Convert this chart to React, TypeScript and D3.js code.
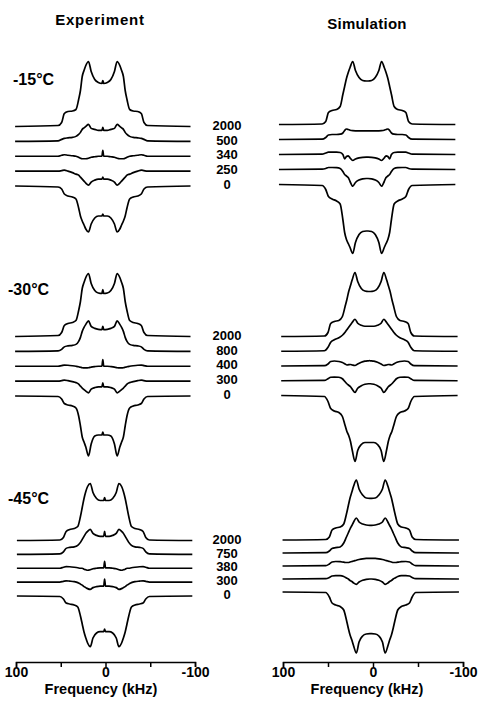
import React, { useEffect, useRef } from 'react';
import * as d3 from 'd3';

// frequency offsets (kHz) from the centre of each powder pattern
const offsets = [98, 50, 46, 43, 39, 34, 30, 27, 25, 23, 21, 19, 16, 13, 9, 5, 1, 0, -1, -5, -9, -13, -16, -19, -21, -23, -25, -27, -30, -34, -39, -43, -46, -50, -98];

const temperatures = ['-15°C', '-30°C', '-45°C'];
const delayLabels = [
  ['2000', '500', '340', '250', '0'],
  ['2000', '800', '400', '300', '0'],
  ['2000', '750', '380', '300', '0'],
];
// line centre of each block of spectra (kHz)
const expCentre = [3, 3, 1];
const simCentre = [6.5, 4, 2.5];
const frequencyTicks = [100, 50, 0, -50, -100];

// intensities (a.u.), one row per delay, top to bottom
const expMinus15 = [
  [0, 1, 4, 13, 15, 15.5, 17, 27, 36, 50, 56, 61, 65, 55, 47, 44, 43, 46, 43, 44, 47, 55, 65, 61, 56, 50, 36, 27, 17, 15.5, 15, 13, 4, 1, 0],
  [0, 0.5, 2, 3, 3.5, 4, 5, 7, 9, 12, 13.5, 15, 17, 13, 12, 11, 11, 14, 11, 11, 12, 13, 17, 15, 13.5, 12, 9, 7, 5, 4, 3.5, 3, 2, 0.5, 0],
  [0, 0, 1, 1.5, 1, 0.5, 0, -1, -2, -2.5, -2.5, -2.5, -2, -1, -0.5, 0, 0, 6, 0, 0, -0.5, -1, -2, -2.5, -2.5, -2.5, -2, -1, 0, 0.5, 1, 1.5, 1, 0, 0],
  [0, 0, 0.5, 1, 0, -1.5, -3, -4, -6, -8, -10, -12, -14, -11, -9, -8, -8, -6, -8, -8, -9, -11, -14, -12, -10, -8, -6, -4, -3, -1.5, 0, 1, 0.5, 0, 0],
  [0, -1, -3, -8, -10, -11, -13, -22, -30, -35, -39, -43, -46, -38, -32, -30, -30, -28, -30, -30, -32, -38, -46, -43, -39, -35, -30, -22, -13, -11, -10, -8, -3, -1, 0],
];
const expMinus30 = [
  [0, 1, 4, 11, 13, 14, 16, 26, 35, 48, 54, 59, 63, 53, 46, 43.5, 43, 47, 43, 43.5, 46, 53, 63, 59, 54, 48, 35, 26, 16, 14, 13, 11, 4, 1, 0],
  [0, 0.5, 2, 4.5, 5.5, 6, 7, 10, 14, 20, 24, 27, 30.5, 25, 23, 22, 21.7, 25, 21.7, 22, 23, 25, 30.5, 27, 24, 20, 14, 10, 7, 6, 5.5, 4.5, 2, 0.5, 0],
  [0, 0, 0.7, 1.2, 1, 0.5, 0, -0.5, -1, -1.5, -1.7, -1.7, -1.5, -0.8, -0.3, 0, 0, 6.7, 0, 0, -0.3, -0.8, -1.5, -1.7, -1.7, -1.5, -1, -0.5, 0, 0.5, 1, 1.2, 0.7, 0, 0],
  [0, 0, 0.5, 1, 0.5, -0.5, -1.5, -3, -5, -7, -8.5, -10, -11.7, -8, -6.5, -5.7, -5.7, -1.7, -5.7, -5.7, -6.5, -8, -11.7, -10, -8.5, -7, -5, -3, -1.5, -0.5, 0.5, 1, 0.5, 0, 0],
  [0, -0.5, -3, -7.5, -9, -10, -12, -20, -30, -41, -46, -51, -60, -48, -40, -39, -39, -36, -39, -39, -40, -48, -60, -51, -46, -41, -30, -20, -12, -10, -9, -7.5, -3, -0.5, 0],
];
const expMinus45 = [
  [0, 0.5, 3, 9, 11, 12, 14, 24, 33, 42, 49, 54, 57, 48, 42, 40, 40, 43, 40, 40, 42, 48, 57, 54, 49, 42, 33, 24, 14, 12, 11, 9, 3, 0.5, 0],
  [0, 0.5, 2.5, 6, 7, 7.5, 9, 12, 15, 18, 21, 23, 25, 21, 19, 18, 18, 23, 18, 18, 19, 21, 25, 23, 21, 18, 15, 12, 9, 7.5, 7, 6, 2.5, 0.5, 0],
  [0, 0, 1, 1.7, 1.5, 1, 0.5, 0, 0, -1, -1.5, -2, -1.5, -0.5, 0, 0.3, 0.3, 7, 0.3, 0.3, 0, -0.5, -1.5, -2, -1.5, -1, 0, 0, 0.5, 1, 1.5, 1.7, 1, 0, 0],
  [0, 0, 0.8, 1.3, 1, 0.5, -0.5, -2, -3, -4.5, -5.5, -6.5, -7.3, -5.5, -4.5, -4, -4, 3, -4, -4, -4.5, -5.5, -7.3, -6.5, -5.5, -4.5, -3, -2, -0.5, 0.5, 1, 1.3, 0.8, 0, 0],
  [0, -0.5, -3, -7, -8, -9, -11, -20, -28, -36, -42, -47, -50.7, -42, -37, -35.7, -35.7, -33, -35.7, -35.7, -37, -42, -50.7, -47, -42, -36, -28, -20, -11, -9, -8, -7, -3, -0.5, 0],
];

const simMinus15 = [
  [0, 0.5, 3, 12, 14, 15, 18, 30, 38, 46, 52, 57, 63, 54, 47, 44, 43.5, 43.5, 43.5, 44, 47, 54, 63, 57, 52, 46, 38, 30, 18, 15, 14, 12, 3, 0.5, 0],
  [0, 0.3, 2, 4.5, 5, 5, 5.3, 6.5, 9, 10.5, 10, 9.3, 8.8, 8.7, 8.7, 8.7, 8.7, 8.7, 8.7, 8.7, 8.7, 8.7, 8.8, 9.3, 10, 10.5, 9, 6.5, 5.3, 5, 5, 4.5, 2, 0.3, 0],
  [0, 0.3, 1.5, 2.3, 2.3, 2.3, 2, 0, -4.3, -2, -1.3, -3.5, -6, -4.5, -3.3, -2.8, -2.7, -2.7, -2.7, -2.8, -3.3, -4.5, -6, -3.5, -1.3, -2, -4.3, 0, 2, 2.3, 2.3, 2.3, 1.5, 0.3, 0],
  [0, 0.3, 1, 2, 2, 1.8, 1, -2, -5, -6.5, -8, -12, -16.7, -13, -10.5, -9.3, -9, -9, -9, -9.3, -10.5, -13, -16.7, -12, -8, -6.5, -5, -2, 1, 1.8, 2, 2, 1, 0.3, 0],
  [0, -1, -5, -12, -14.5, -16.5, -19.5, -35, -48, -55, -59, -63, -69, -58, -50, -47, -46.5, -46.5, -46.5, -47, -50, -58, -69, -63, -59, -55, -48, -35, -19.5, -16.5, -14.5, -12, -5, -1, 0],
];
const simMinus30 = [
  [0, 0.5, 4, 13, 15, 16, 20, 30, 37, 45, 51, 57, 64, 55, 48, 45.5, 45, 45, 45, 45.5, 48, 55, 64, 57, 51, 45, 37, 30, 20, 16, 15, 13, 4, 0.5, 0],
  [0, 0.5, 4, 9, 11.5, 13.5, 16, 19, 21.5, 24, 26.5, 29, 32, 28, 26, 25, 25, 25, 25, 25, 26, 28, 32, 29, 26.5, 24, 21.5, 19, 16, 13.5, 11.5, 9, 4, 0.5, 0],
  [0, 0.3, 2, 4.5, 5, 4.5, 3.5, 2, 1, 1.3, 1.5, 1, 0.5, 2, 3.7, 4.8, 5.2, 5.3, 5.2, 4.8, 3.7, 2, 0.5, 1, 1.5, 1.3, 1, 2, 3.5, 4.5, 5, 4.5, 2, 0.3, 0],
  [0, 0.3, 2, 3.5, 3.7, 3.5, 2, -1, -3, -4.5, -6, -8.5, -11.7, -7.5, -5, -3.5, -3, -3, -3, -3.5, -5, -7.5, -11.7, -8.5, -6, -4.5, -3, -1, 2, 3.5, 3.7, 3.5, 2, 0.3, 0],
  [0, -1, -6, -13, -15.5, -17, -21, -30, -36, -40, -46, -55, -66, -55, -49, -47, -47, -47, -47, -47, -49, -55, -66, -55, -46, -40, -36, -30, -21, -17, -15.5, -13, -6, -1, 0],
];
const simMinus45 = [
  [0, 0.5, 3, 10, 12, 13, 16, 26, 34, 42, 48, 54, 60, 51, 45, 42, 41.7, 41.7, 41.7, 42, 45, 51, 60, 54, 48, 42, 34, 26, 16, 13, 12, 10, 3, 0.5, 0],
  [0, 0.3, 2, 4.5, 5.3, 6, 10, 16, 20, 24, 27.5, 31, 35, 31, 29, 28, 27.7, 27.7, 27.7, 28, 29, 31, 35, 31, 27.5, 24, 20, 16, 10, 6, 5.3, 4.5, 2, 0.3, 0],
  [0, 0.3, 2, 4, 4.5, 4.3, 3.8, 3.5, 3.5, 4, 4.5, 5, 5.8, 6.5, 7.2, 7.6, 7.7, 7.7, 7.7, 7.6, 7.2, 6.5, 5.8, 5, 4.5, 4, 3.5, 3.5, 3.8, 4.3, 4.5, 4, 2, 0.3, 0],
  [0, 0.3, 1.5, 3, 3.3, 3.3, 2.5, 1, 0, -1.5, -2.5, -4, -5.3, -3, -1.2, -0.3, 0, 0, 0, -0.3, -1.2, -3, -5.3, -4, -2.5, -1.5, 0, 1, 2.5, 3.3, 3.3, 3, 1.5, 0.3, 0],
  [0, -0.5, -5, -11, -13, -14.5, -18, -28, -36, -43, -48, -54, -61, -50, -44, -42, -41.7, -41.7, -41.7, -42, -44, -50, -61, -54, -48, -43, -36, -28, -18, -14.5, -13, -11, -5, -0.5, 0],
];

const FONT = '"Liberation Sans", Arial, Helvetica, sans-serif';

export default function App() {
  const svgRef = useRef<SVGSVGElement>(null);

  useEffect(() => {
    const svg = d3.select(svgRef.current);
    svg.selectAll('*').remove();

    const panels = [
      {
        title: 'Experiment',
        titleX: 100,
        titleY: 25,
        blocks: [expMinus15, expMinus30, expMinus45],
        centre: expCentre,
        range: [16, 195],
        rows: [[126.5, 186], [336.5, 396], [540.5, 596]],
        axisLabelX: 101,
      },
      {
        title: 'Simulation',
        titleX: 367,
        titleY: 29,
        blocks: [simMinus15, simMinus30, simMinus45],
        centre: simCentre,
        range: [283, 463],
        rows: [[124.5, 184.5], [336.5, 395.5], [540, 592]],
        axisLabelX: 367,
      },
    ];

    const amp = d3.scaleLinear().domain([0, 100]).range([0, -100]);
    const axisY = 662;

    panels.forEach((panel) => {
      const x = d3.scaleLinear().domain([100, -100]).range(panel.range);
      const g = svg.append('g');

      g.append('text')
        .attr('x', panel.titleX)
        .attr('y', panel.titleY)
        .attr('text-anchor', 'middle')
        .style('font-family', FONT)
        .style('font-size', '15px')
        .style('font-weight', 'bold')
        .style('letter-spacing', panel.title === 'Experiment' ? '0.8px' : '0.3px')
        .text(panel.title);

      panel.blocks.forEach((block, b) => {
        const row = d3
          .scalePoint<number>()
          .domain(d3.range(block.length))
          .range(panel.rows[b]);

        block.forEach((trace, k) => {
          const line = d3
            .line<number>()
            .x((_, i) => x(panel.centre[b] + offsets[i]))
            .y((v) => row(k)! + amp(v))
            .curve(d3.curveMonotoneX);

          g.append('path')
            .attr('d', line(trace))
            .attr('fill', 'none')
            .attr('stroke', '#000')
            .attr('stroke-width', 1.7)
            .attr('stroke-linejoin', 'round');
        });
      });

      const axis = g
        .append('g')
        .attr('transform', `translate(0, ${axisY})`)
        .call(
          d3
            .axisBottom(x)
            .tickValues(frequencyTicks)
            .tickSize(5)
            .tickPadding(0)
            .tickFormat((d) => (Math.abs(+d) === 50 ? '' : String(d)))
        );
      axis.selectAll('path, line').attr('stroke', '#000').attr('stroke-width', 1.5);
      axis
        .selectAll('text')
        .attr('fill', '#000')
        .style('font-family', FONT)
        .style('font-size', '14px')
        .style('font-weight', 'bold');

      g.append('text')
        .attr('x', panel.axisLabelX)
        .attr('y', 694)
        .attr('text-anchor', 'middle')
        .style('font-family', FONT)
        .style('font-size', '14.5px')
        .style('font-weight', 'bold')
        .text('Frequency (kHz)');
    });

    // temperature labels and delay labels between the panels
    const tempPos = [
      [13, 85],
      [8, 295],
      [8, 504],
    ];
    temperatures.forEach((t, b) => {
      svg
        .append('text')
        .attr('x', tempPos[b][0])
        .attr('y', tempPos[b][1])
        .style('font-family', FONT)
        .style('font-size', '16px')
        .style('font-weight', 'bold')
        .text(t);

      const row = d3
        .scalePoint<number>()
        .domain(d3.range(delayLabels[b].length))
        .range(panels[0].rows[b]);

      svg
        .append('g')
        .selectAll('text')
        .data(delayLabels[b])
        .join('text')
        .attr('x', 227)
        .attr('y', (_, k) => row(k)! - 1.5)
        .attr('dy', '0.36em')
        .attr('text-anchor', 'middle')
        .style('font-family', FONT)
        .style('font-size', '13px')
        .style('font-weight', 'bold')
        .text((d) => d);
    });
  }, []);

  return (
    <svg
      ref={svgRef}
      width={480}
      height={704}
      style={{ position: 'absolute', left: 0, top: 0, background: '#fff' }}
    />
  );
}
